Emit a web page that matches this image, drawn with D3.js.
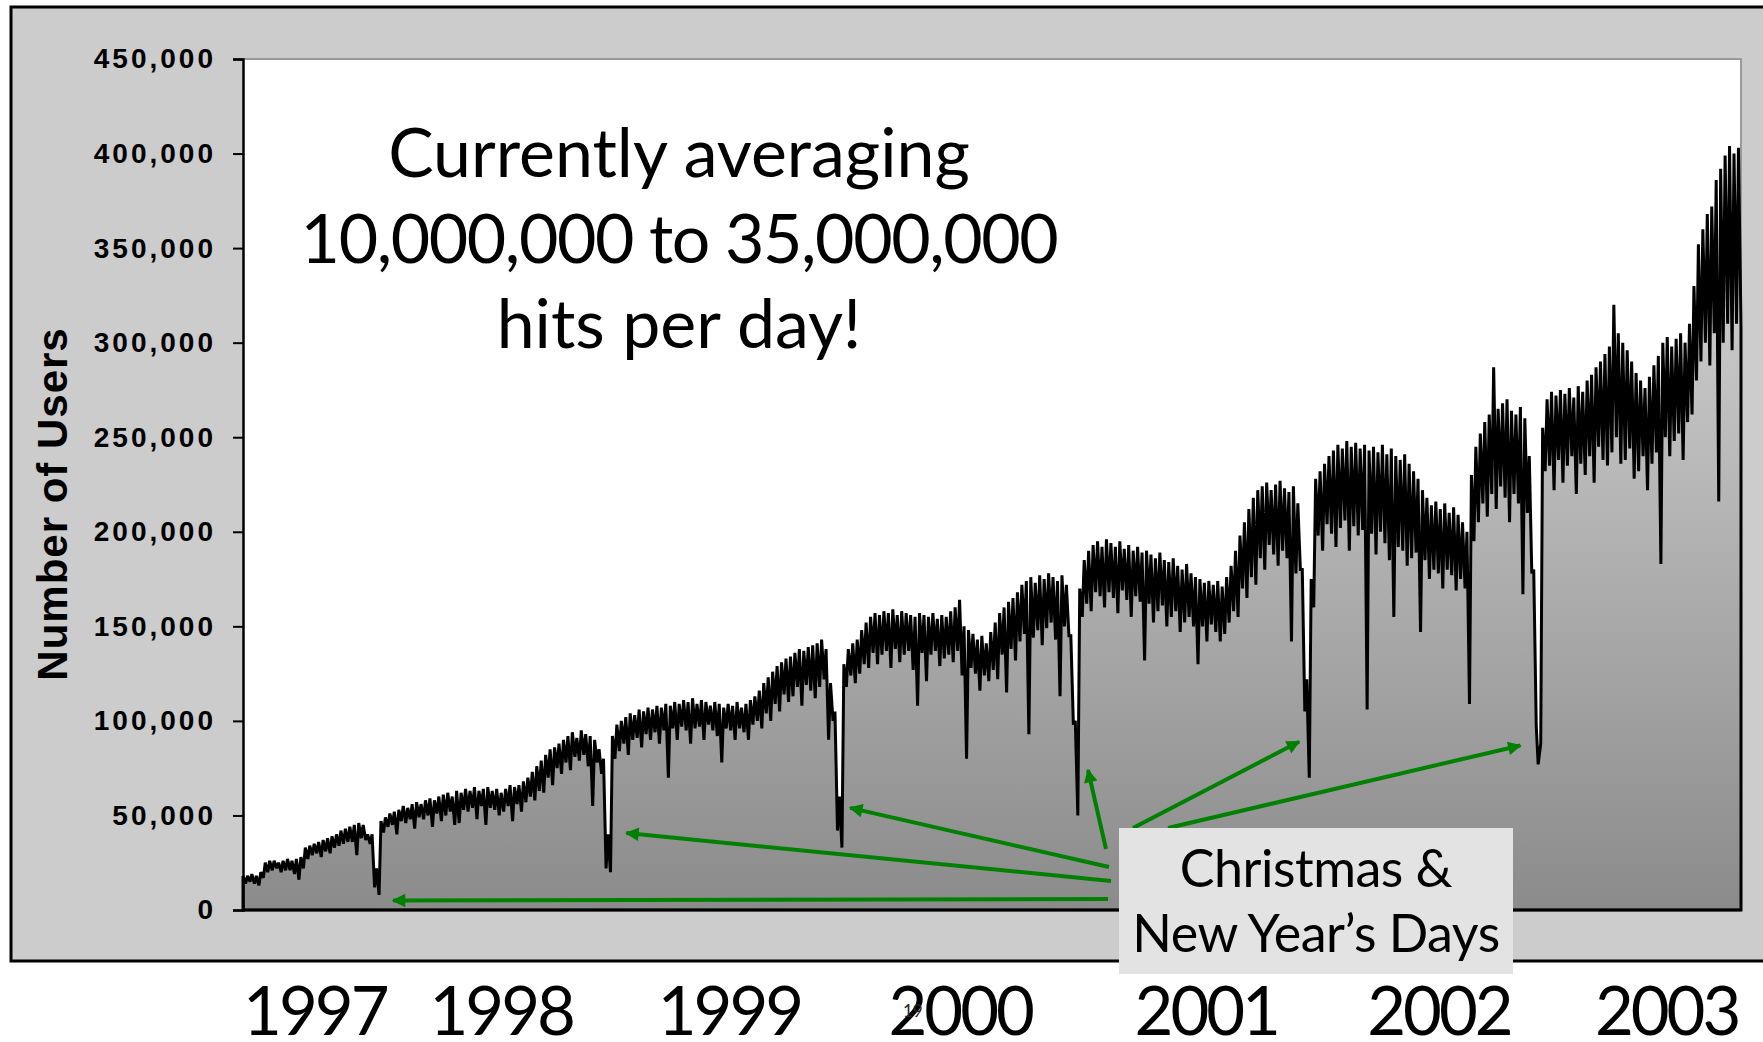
<!DOCTYPE html>
<html>
<head>
<meta charset="utf-8">
<script src="https://cdn.jsdelivr.net/npm/d3@7"></script>
<style>
  body { margin: 0; background: #ffffff; }
  svg { display: block; }
</style>
</head>
<body>
<svg id="chart" width="1763" height="1042"></svg>
<script>
// Daily users, summarised per week as a midweek peak and a weekend low (thousands).
// Each season starts on the first Sunday of the year (the first one on 1 June 1997).
const seasonStarts = ['1997-06-01', '1998-01-04', '1999-01-03', '2000-01-02', '2001-01-07', '2002-01-06', '2003-01-05'];

const peaks1997 = [18,18,19,18,20,25,26,26,25,26, 27,26,27,28,33,34,35,36,37,38, 39,40,42,43,44,45,46,45,40,40, 22];
const lows1997  = [14,15,14,13,17,20,21,22,20,21, 21,19,16,22,27,29,30,28,31,30, 33,34,35,36,36,29,38,37,35,12, 8];

const peaks1998 = [47,49,51,52,53,55,54,56,57,56, 58,59,58,60,61,62,60,63,62,64, 63,65,63,64,65,63,64,62,64,66,
                   65,66,68,70,73,76,79,82,85,86, 88,90,92,94,91,95,93,92,90,85, 80,40];
const lows1998  = [41,44,45,40,47,46,48,43,49,48, 50,44,51,47,50,52,45,46,53,52, 54,48,55,45,54,53,50,52,55,47,
                   56,52,57,60,58,63,62,70,66,75, 72,78,74,81,79,82,76,55,78,72, 22,20];

const peaks1999 = [92,98,100,102,104,103,106,105,107,106, 108,107,109,108,110,109,111,110,112,109,
                   111,110,108,110,109,107,109,108,110,107, 109,111,113,116,120,123,126,129,131,133,
                   134,136,138,137,139,140,141,143,138,120, 105,60];
const lows1999  = [80,84,88,82,90,91,86,93,90,94, 88,95,70,96,90,97,95,88,96,97,
                   90,98,95,92,78,96,95,90,96,94, 90,98,100,96,104,100,109,105,114,110,
                   113,118,108,119,116,112,118,122,90,100, 42,33];

const peaks2000 = [130,138,141,143,148,152,155,157,156,158, 157,159,156,158,157,156,155,157,156,155,
                   157,154,156,155,158,160,164,150,148,146, 143,145,141,147,152,157,160,163,165,168,
                   172,174,176,173,177,175,178,176,174,177, 172,145,100];
const lows2000  = [118,124,120,125,130,128,136,130,135,137, 128,138,131,135,137,127,108,136,121,135,
                   137,129,133,135,131,137,124,80,128,125, 116,124,121,127,122,135,115,138,132,142,
                   146,93,144,148,140,149,152,143,113,150, 145,98,50];

const peaks2001 = [170,185,190,193,195,192,196,194,192,195, 191,193,190,192,189,190,188,186,189,185,
                   184,186,182,180,183,178,176,175,173,174, 172,174,171,176,182,190,198,205,212,218,
                   222,224,226,222,225,227,223,221,224,215, 180,122];
const lows2001  = [155,162,158,168,166,160,168,165,157,169, 164,155,166,163,132,162,152,158,161,150,
                   155,158,147,152,155,150,130,150,142,151, 147,142,146,152,158,155,170,165,176,172,
                   186,180,193,188,182,190,186,142,178,180, 105,70];

const peaks2002 = [175,228,232,236,240,243,246,244,248,245, 247,244,246,243,245,242,246,241,244,240,
                   238,241,236,232,228,222,218,214,216,212, 215,210,213,209,205,200,230,245,252,258,
                   262,287,265,268,270,264,262,266,260,240, 180,77];
const lows2002  = [160,198,190,204,199,192,202,206,190,203, 198,201,106,199,188,200,194,185,155,192,
                   190,182,186,189,147,185,175,180,178,170, 180,177,169,175,170,109,195,205,215,208,
                   220,212,224,218,205,220,215,167,210,178, 97,88];

const peaks2003 = [255,270,274,272,275,273,276,271,277,274, 280,283,287,290,294,298,320,305,300,296,
                   290,284,280,276,282,288,293,300,303,298, 302,305,300,310,330,352,360,368,372,386,
                   392,399,404,400,403];
const lows2003  = [232,235,222,238,226,235,240,220,236,230, 240,226,245,238,235,242,250,236,238,244,
                   228,232,240,222,236,242,183,250,240,248, 252,238,258,262,280,290,300,288,305,216,
                   300,310,296,310,308];

const seasonPeaks = [peaks1997, peaks1998, peaks1999, peaks2000, peaks2001, peaks2002, peaks2003];
const seasonLows  = [lows1997, lows1998, lows1999, lows2000, lows2001, lows2002, lows2003];

// Axis ticks and year captions
const yTicks = [0, 50000, 100000, 150000, 200000, 250000, 300000, 350000, 400000, 450000];
const yearLabels = ['1997', '1998', '1999', '2000', '2001', '2002', '2003'];
const yearLabelDates = ['1997-09-24', '1998-07-14', '1999-07-08', '2000-07-05', '2001-07-27', '2002-07-28', '2003-07-21'];

// Holiday call-out: where each arrow points (date, users)
const holidayArrowDates  = ['1998-01-25', '1999-01-27', '2000-01-14', '2001-01-22', '2001-12-20', '2002-12-03'];
const holidayArrowValues = [5000, 40700, 54000, 74000, 89000, 87000];

const titleLines = ['Currently averaging', '10,000,000 to 35,000,000', 'hits per day!'];
const calloutLines = ['Christmas &', 'New Year\u2019s Days'];

// ---- build the daily series from the weekly peak/low pairs ----
const parseDay = d3.utcParse('%Y-%m-%d');
const series = [];
seasonStarts.forEach((start, s) => {
  const t0 = parseDay(start);
  seasonPeaks[s].forEach((p, i) => {
    series.push({ date: d3.utcDay.offset(t0, 7 * i + 2), value: p * 1000 });
    series.push({ date: d3.utcDay.offset(t0, 7 * i + 6), value: seasonLows[s][i] * 1000 });
  });
});

// ---- layout ----
const plot = { left: 243, right: 1741, top: 59, bottom: 910 };
const svg = d3.select('#chart');

const x = d3.scaleUtc()
  .domain(d3.extent(series, d => d.date))
  .range([plot.left, plot.right]);
const y = d3.scaleLinear()
  .domain([0, 450000])
  .range([plot.bottom, plot.top]);

// outer grey panel
svg.append('rect')
  .attr('x', 11).attr('y', 7)
  .attr('width', 1780).attr('height', 954)
  .attr('fill', '#cccccc')
  .attr('stroke', '#000').attr('stroke-width', 3);

// plot background
svg.append('rect')
  .attr('x', plot.left).attr('y', plot.top)
  .attr('width', plot.right - plot.left).attr('height', plot.bottom - plot.top)
  .attr('fill', '#ffffff');

// area gradient
const defs = svg.append('defs');
const grad = defs.append('linearGradient')
  .attr('id', 'areaFill')
  .attr('gradientUnits', 'userSpaceOnUse')
  .attr('x1', 0).attr('x2', 0)
  .attr('y1', plot.top).attr('y2', plot.bottom);
grad.append('stop').attr('offset', 0).attr('stop-color', '#e3e3e3');
grad.append('stop').attr('offset', 1).attr('stop-color', '#8b8b8b');

defs.append('marker')
  .attr('id', 'arrowHead')
  .attr('viewBox', '0 0 10 10')
  .attr('refX', 9).attr('refY', 5)
  .attr('markerWidth', 4).attr('markerHeight', 3.4)
  .attr('markerUnits', 'strokeWidth')
  .attr('orient', 'auto')
  .append('path')
  .attr('d', 'M0,0 L10,5 L0,10 Z')
  .attr('fill', '#008000');

// plot frame: grey top/right
svg.append('path')
  .attr('d', `M${plot.left},${plot.top}H${plot.right}V${plot.bottom}`)
  .attr('fill', 'none')
  .attr('stroke', '#9a9a9a')
  .attr('stroke-width', 2);

// the series
const area = d3.area()
  .x(d => x(d.date))
  .y0(y(0))
  .y1(d => y(d.value));
svg.append('path')
  .datum(series)
  .attr('d', area)
  .attr('fill', 'url(#areaFill)')
  .attr('stroke', '#000')
  .attr('stroke-width', 3)
  .attr('stroke-linejoin', 'miter')
  .attr('stroke-miterlimit', 3);

// y axis
const yAxis = svg.append('g')
  .attr('transform', `translate(${plot.left},0)`)
  .call(d3.axisLeft(y).tickValues(yTicks).tickSize(10).tickPadding(17).tickFormat(d3.format(',')));
yAxis.select('.domain').attr('stroke', '#000').attr('stroke-width', 2.5);
yAxis.selectAll('.tick line').attr('stroke', '#000').attr('stroke-width', 2);
yAxis.selectAll('.tick text')
  .attr('fill', '#000')
  .style('font-family', '"Liberation Sans", Arial, sans-serif')
  .style('font-weight', 'bold')
  .style('font-size', '28px')
  .style('letter-spacing', '3px');

// x baseline
svg.append('line')
  .attr('x1', plot.left).attr('x2', plot.right)
  .attr('y1', y(0)).attr('y2', y(0))
  .attr('stroke', '#000').attr('stroke-width', 2.5);

// y title
svg.append('text')
  .attr('transform', 'translate(67,504) rotate(-90)')
  .attr('text-anchor', 'middle')
  .style('font-family', '"Liberation Sans", Arial, sans-serif')
  .style('font-weight', 'bold')
  .style('font-size', '42px')
  .style('letter-spacing', '1px')
  .attr('fill', '#000')
  .text('Number of Users');

// year captions under the panel
svg.append('g').selectAll('text')
  .data(yearLabels)
  .join('text')
  .attr('x', (d, i) => x(parseDay(yearLabelDates[i])))
  .attr('y', 1035)
  .attr('text-anchor', 'middle')
  .style('font-family', 'Lato, "Open Sans", sans-serif')
  .style('font-size', '67px')
  .style('letter-spacing', '-3px')
  .attr('fill', '#000')
  .text(d => d);

// slide number
svg.append('text')
  .attr('x', 903).attr('y', 1017)
  .style('font-family', 'Lato, sans-serif')
  .style('font-size', '17px')
  .attr('fill', '#222')
  .text('19');

// headline
svg.append('g').selectAll('text')
  .data(titleLines)
  .join('text')
  .attr('x', 679)
  .attr('y', (d, i) => 177 + i * 85.5)
  .attr('text-anchor', 'middle')
  .style('font-family', 'Lato, "Open Sans", sans-serif')
  .style('font-size', '68px')
  .style('letter-spacing', (d, i) => (i === 1 ? '-1.4px' : '0px'))
  .attr('fill', '#000')
  .text(d => d);

// holiday arrows
const arrowStarts = [[1108, 899], [1111, 881], [1109, 867], [1106, 849], [1133, 828], [1168, 828]];
svg.append('g').selectAll('line')
  .data(holidayArrowDates)
  .join('line')
  .attr('x1', (d, i) => arrowStarts[i][0])
  .attr('y1', (d, i) => arrowStarts[i][1])
  .attr('x2', d => x(parseDay(d)))
  .attr('y2', (d, i) => y(holidayArrowValues[i]))
  .attr('stroke', '#008000')
  .attr('stroke-width', 4)
  .attr('marker-end', 'url(#arrowHead)');

// call-out box
svg.append('rect')
  .attr('x', 1119).attr('y', 828)
  .attr('width', 394).attr('height', 146)
  .attr('fill', '#e3e3e3');
svg.append('g').selectAll('text')
  .data(calloutLines)
  .join('text')
  .attr('x', 1316)
  .attr('y', (d, i) => 887 + i * 65)
  .attr('text-anchor', 'middle')
  .style('font-family', 'Lato, "Open Sans", sans-serif')
  .style('font-size', '52px')
  .style('letter-spacing', '-0.5px')
  .attr('fill', '#000')
  .text(d => d);
</script>
</body>
</html>
